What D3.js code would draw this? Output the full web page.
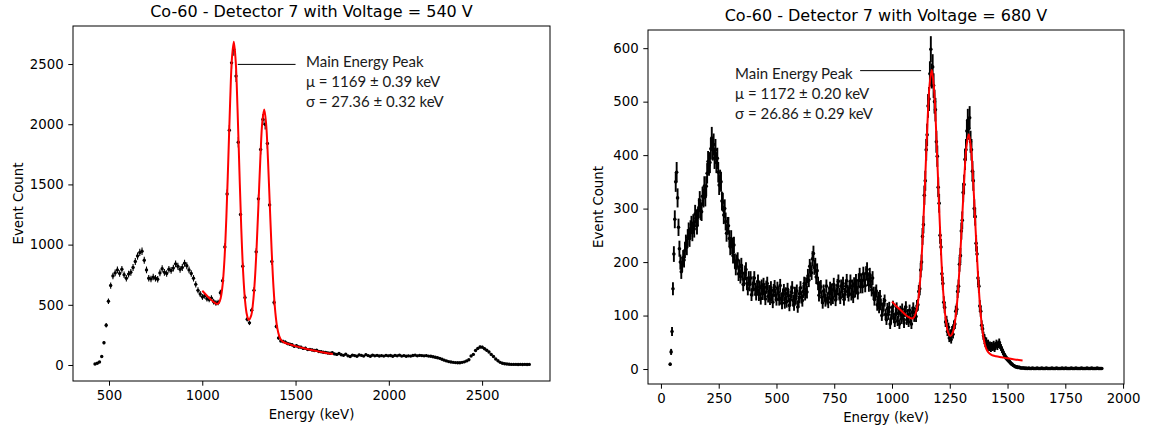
<!DOCTYPE html>
<html>
<head>
<meta charset="utf-8">
<script src="https://cdn.jsdelivr.net/npm/d3@7"></script>
<style>
  body { margin: 0; background: #fff; }
  svg text { font-family: "DejaVu Sans", sans-serif; fill: #000; }
</style>
</head>
<body>
<div id="chart"></div>
<script>
// ---- 540 V spectrum: counts per 12 keV bin, first bin centred at 425 keV
const leftBinStart = 425, leftBinWidth = 12;
const leftCounts = [
  8, 15, 25, 70, 185, 330, 530, 660, 740, 765,
  790, 760, 795, 750, 720, 755, 770, 810, 860, 905,
  935, 945, 870, 790, 720, 715, 730, 720, 712, 765,
  800, 770, 760, 795, 785, 805, 840, 820, 795, 810,
  845, 825, 790, 760, 720, 670, 620, 590, 565, 575,
  550, 545, 555, 525, 515, 520, 600, 700, 980, 1420,
  1950, 2510, 2620, 2400, 1850, 1250, 820, 560, 380, 350,
  455, 620, 940, 1380, 1790, 2040, 2000, 1840, 1330, 860,
  520, 320, 225, 200, 195, 190, 178, 172, 168, 155,
  160, 150, 148, 138, 140, 128, 130, 125, 120, 122,
  112, 110, 106, 104, 100, 98, 102, 92, 88, 96,
  85, 80, 90, 76, 70, 82, 78, 72, 84, 80,
  74, 86, 78, 72, 82, 76, 80, 75, 78, 74,
  80, 76, 79, 73, 80, 76, 82, 74, 78, 72,
  76, 74, 79, 82, 76, 80, 78, 76, 78, 74,
  72, 68, 64, 60, 55, 48, 40, 34, 28, 25,
  22, 20, 19, 19, 22, 26, 34, 44, 75, 88,
  120, 138, 150, 148, 135, 122, 108, 88, 70, 50,
  35, 22, 15, 10, 8, 6, 5, 5, 5, 4,
  5, 4, 5, 4, 5
];
// fitted curve (background + two gaussians), sampled
const leftFitE = [1000, 1020, 1040, 1060, 1079, 1089, 1099, 1109, 1119, 1129, 1139, 1149, 1159, 1169,
  1179, 1189, 1199, 1209, 1219, 1229, 1239, 1249, 1262, 1272, 1282, 1292, 1302, 1312, 1322, 1332,
  1342, 1352, 1362, 1372, 1382, 1392, 1402, 1412, 1422, 1432, 1442, 1460, 1480, 1500, 1550, 1600, 1650, 1700];
const leftFitV = [617, 584, 553, 524, 507, 516, 558, 665, 878, 1222, 1681, 2169, 2547, 2685,
  2526, 2126, 1617, 1136, 772, 540, 419, 375, 410, 515, 709, 1002, 1367, 1740, 2022, 2123,
  2008, 1713, 1326, 947, 641, 431, 308, 242, 210, 194, 185, 175, 166, 157, 137, 120, 104, 91];
const leftNote = ["Main Energy Peak", "\u03bc = 1169 \u00b1 0.39 keV", "\u03c3 = 27.36 \u00b1 0.32 keV"];
const leftXTicks = [500, 1000, 1500, 2000, 2500];
const leftYTicks = [0, 500, 1000, 1500, 2000, 2500];

// ---- 680 V spectrum: counts per 4 keV bin, first bin centred at 40 keV (25 bins = 100 keV per row)
const rightBinStart = 40, rightBinWidth = 4;
const rightCounts = [
  9, 32, 70, 150, 215, 280, 350, 368, 320, 265, 225, 200, 182, 196, 208, 204, 222, 236, 228, 246, 258, 244, 262, 270, 255,
  273, 262, 290, 282, 268, 284, 302, 315, 296, 294, 323, 320, 342, 322, 342, 366, 388, 381, 386, 412, 432, 410, 420, 394, 410,
  386, 394, 368, 344, 354, 350, 314, 312, 288, 300, 276, 254, 268, 268, 244, 228, 244, 230, 212, 232, 202, 189, 200, 204, 178,
  191, 173, 194, 179, 158, 168, 180, 186, 160, 150, 170, 158, 170, 139, 148, 161, 170, 149, 140, 153, 164, 139, 152, 132, 155,
  141, 158, 144, 131, 153, 160, 136, 145, 131, 152, 138, 125, 147, 154, 138, 130, 151, 143, 130, 156, 132, 123, 139, 147, 124,
  141, 126, 149, 137, 119, 130, 144, 152, 128, 120, 142, 132, 146, 116, 126, 141, 152, 134, 128, 145, 160, 140, 159, 144, 174,
  166, 192, 186, 180, 206, 216, 190, 194, 172, 184, 160, 138, 152, 154, 134, 124, 146, 139, 128, 155, 132, 125, 142, 151, 130,
  148, 133, 158, 146, 129, 141, 156, 164, 140, 133, 155, 145, 160, 130, 140, 155, 165, 145, 138, 152, 164, 140, 155, 135, 159,
  146, 165, 152, 142, 166, 176, 154, 166, 154, 178, 166, 156, 179, 186, 168, 157, 176, 164, 148, 170, 142, 130, 142, 146, 120,
  133, 115, 136, 121, 100, 110, 122, 128, 102, 92, 113, 102, 115, 84, 94, 107, 117, 96, 88, 102, 114, 90, 104, 84, 108,
  94, 112, 98, 86, 108, 116, 92, 102, 88, 110, 96, 84, 106, 114, 98, 105, 98, 118, 120, 145, 150, 185, 200, 248, 270,
  325, 352, 410, 438, 492, 505, 552, 598, 548, 565, 530, 500, 485, 425, 398, 340, 310, 250, 228, 178, 160, 125, 115, 88, 90,
  70, 78, 58, 66, 55, 72, 65, 82, 84, 108, 112, 145, 155, 196, 212, 258, 278, 330, 345, 392, 410, 445, 465, 450, 470,
  425, 410, 370, 352, 300, 285, 235, 215, 170, 155, 118, 108, 82, 75, 62, 58, 48, 52, 42, 48, 40, 45, 38, 44, 40,
  46, 38, 44, 48, 42, 46, 50, 44, 40, 36, 32, 28, 25, 22, 20, 18, 16, 14, 12, 10, 9, 7, 6, 5, 4,
  4, 3, 3, 3, 2, 2, 2, 2, 2, 1, 2, 1, 1, 2, 1, 1, 1, 2, 1, 1, 1, 1, 2, 1, 1,
  1, 1, 2, 1, 1, 1, 1, 2, 1, 1, 1, 1, 1, 2, 1, 1, 1, 1, 2, 1, 1, 1, 1, 1, 2,
  1, 1, 1, 2, 1, 1, 1, 1, 1, 2, 1, 1, 1, 1, 2, 1, 1, 1, 1, 1, 2, 1, 1, 1, 1,
  1, 2, 1, 1, 1, 1, 2, 1, 1, 1, 1, 1, 2, 1, 1, 1, 1, 1
];
const rightFitE = [1000, 1020, 1040, 1060, 1072, 1082, 1092, 1102, 1112, 1122, 1132, 1142, 1152, 1162, 1172,
  1182, 1192, 1202, 1212, 1222, 1232, 1242, 1252, 1262, 1272, 1282, 1292, 1302, 1312, 1322, 1332,
  1342, 1352, 1362, 1372, 1382, 1392, 1402, 1412, 1422, 1432, 1450, 1475, 1500, 1530, 1565];
const rightFitV = [126, 117, 109, 101, 97, 95, 95, 103, 124, 167, 240, 338, 445, 528, 559,
  523, 435, 323, 220, 142, 95, 70, 62, 67, 87, 126, 188, 268, 351, 415, 439,
  413, 346, 259, 177, 112, 70, 46, 34, 29, 26, 24, 22, 20, 18, 16];
const rightNote = ["Main Energy Peak", "\u03bc = 1172 \u00b1 0.20 keV", "\u03c3 = 26.86 \u00b1 0.29 keV"];
const rightXTicks = [0, 250, 500, 750, 1000, 1250, 1500, 1750, 2000];
const rightYTicks = [0, 100, 200, 300, 400, 500, 600];

const width = 1152, height = 431;

const svg = d3.select("#chart").append("svg")
    .attr("width", width)
    .attr("height", height)
    .attr("viewBox", [0, 0, width, height]);

const panels = [
    {
        title: "Co-60 - Detector 7 with Voltage = 540 V",
        box: { left: 73, right: 550, top: 26, bottom: 381 },
        xDomain: [307, 2864], yDomain: [-133, 2816],
        xTicks: leftXTicks, yTicks: leftYTicks,
        start: leftBinStart, step: leftBinWidth, counts: leftCounts,
        fitE: leftFitE, fitV: leftFitV,
        note: leftNote,
        // text start (keV, counts of first line) and leader line ends
        noteAt: [1556, 2527], lineFrom: [1190, 2497], lineTo: [1500, 2497],
        yLabelX: 23, barWidth: 1.1, dot: 1.7
    },
    {
        title: "Co-60 - Detector 7 with Voltage = 680 V",
        box: { left: 648, right: 1124, top: 30, bottom: 384 },
        xDomain: [-56, 2004], yDomain: [-28, 634],
        xTicks: rightXTicks, yTicks: rightYTicks,
        start: rightBinStart, step: rightBinWidth, counts: rightCounts,
        fitE: rightFitE, fitV: rightFitV,
        note: rightNote,
        noteAt: [321, 553], lineFrom: [862, 558], lineTo: [1126, 558],
        yLabelX: 603, barWidth: 1.9, dot: 1.8
    }
];

panels.forEach(drawPanel);

function drawPanel(p) {
    const b = p.box;
    const x = d3.scaleLinear(p.xDomain, [b.left, b.right]);
    const y = d3.scaleLinear(p.yDomain, [b.bottom, b.top]);
    const g = svg.append("g");

    const pts = p.counts.map((c, i) => ({ e: p.start + i * p.step, v: c, err: Math.sqrt(c) }));

    // error bars
    g.append("g")
        .attr("stroke", "#000")
        .attr("stroke-width", p.barWidth)
        .selectAll("line")
        .data(pts)
        .join("line")
            .attr("x1", d => x(d.e))
            .attr("x2", d => x(d.e))
            .attr("y1", d => y(d.v - d.err))
            .attr("y2", d => y(d.v + d.err));

    // data points
    g.append("g")
        .attr("fill", "#000")
        .selectAll("circle")
        .data(pts)
        .join("circle")
            .attr("cx", d => x(d.e))
            .attr("cy", d => y(d.v))
            .attr("r", p.dot);

    // fit
    const fit = p.fitE.map((e, i) => [e, p.fitV[i]]);
    g.append("path")
        .datum(fit)
        .attr("fill", "none")
        .attr("stroke", "#ff0000")
        .attr("stroke-width", 2)
        .attr("stroke-linejoin", "round")
        .attr("d", d3.line().x(d => x(d[0])).y(d => y(d[1])).curve(d3.curveCatmullRom.alpha(0.5)));

    // annotation
    g.append("line")
        .attr("x1", x(p.lineFrom[0])).attr("y1", y(p.lineFrom[1]))
        .attr("x2", x(p.lineTo[0])).attr("y2", y(p.lineTo[1]))
        .attr("stroke", "#000")
        .attr("stroke-width", 1);

    g.append("g")
        .selectAll("text")
        .data(p.note)
        .join("text")
            .attr("x", x(p.noteAt[0]))
            .attr("y", (d, i) => y(p.noteAt[1]) + i * 20)
            .attr("dominant-baseline", "central")
            .style("font-family", "Lato, 'Open Sans', sans-serif")
            .style("font-size", "15px")
            .style("fill", "#1a1a1a")
            .text(d => d);

    // axes
    const xAxis = g.append("g")
        .attr("transform", `translate(0,${b.bottom})`)
        .call(d3.axisBottom(x).tickValues(p.xTicks).tickFormat(d3.format("d"))
            .tickSize(4.7).tickPadding(4.7).tickSizeOuter(0));
    const yAxis = g.append("g")
        .attr("transform", `translate(${b.left},0)`)
        .call(d3.axisLeft(y).tickValues(p.yTicks).tickFormat(d3.format("d"))
            .tickSize(4.7).tickPadding(4.7).tickSizeOuter(0));
    [xAxis, yAxis].forEach(a => {
        a.select(".domain").remove();
        a.attr("font-family", null).attr("font-size", null);
        a.selectAll("text").style("font-size", "13.3px");
        a.selectAll("line").attr("stroke", "#000").attr("stroke-width", 1);
    });

    // frame
    g.append("rect")
        .attr("x", b.left).attr("y", b.top)
        .attr("width", b.right - b.left).attr("height", b.bottom - b.top)
        .attr("fill", "none")
        .attr("stroke", "#000")
        .attr("stroke-width", 1);

    // titles and labels
    const cx = (b.left + b.right) / 2;
    g.append("text")
        .attr("x", cx).attr("y", b.top - 9)
        .attr("text-anchor", "middle")
        .style("font-size", "16px")
        .text(p.title);
    g.append("text")
        .attr("x", cx).attr("y", b.bottom + 38)
        .attr("text-anchor", "middle")
        .style("font-size", "13.3px")
        .text("Energy (keV)");
    g.append("text")
        .attr("transform", `translate(${p.yLabelX},${(b.top + b.bottom) / 2}) rotate(-90)`)
        .attr("text-anchor", "middle")
        .style("font-size", "13.3px")
        .text("Event Count");
}
</script>
</body>
</html>
